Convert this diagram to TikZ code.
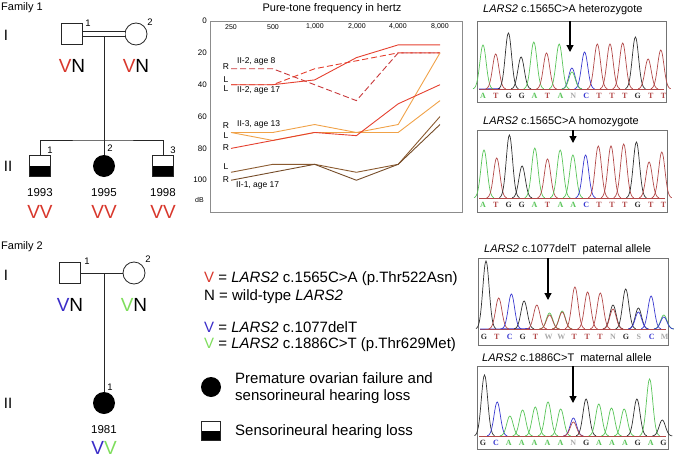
\documentclass[tikz,border=0pt]{standalone}
\usepackage{fontspec}
\setmainfont{Liberation Sans}
\newfontfamily\basefont{Liberation Serif}
\usetikzlibrary{arrows.meta}
\definecolor{vred}{HTML}{D8372C}
\definecolor{vblue}{HTML}{3A2CC8}
\definecolor{vgreen}{HTML}{7EDD5C}
\definecolor{ared}{HTML}{E5402F}
\definecolor{adred}{HTML}{C8383A}
\definecolor{aorange}{HTML}{F0A248}
\definecolor{abrown}{HTML}{8A5A30}
\definecolor{cA}{HTML}{58C458}
\definecolor{cT}{HTML}{B24848}
\definecolor{cG}{HTML}{303030}
\definecolor{cC}{HTML}{3838D0}
\definecolor{cN}{HTML}{A8A8A8}
\newcommand\fsz[1]{\fontsize{#1}{#1}\selectfont}
\newcommand\pk[4]{\draw[#4, line width=0.7pt] plot[domain=-10:10, samples=27, smooth] ({#1+\x},{#2-#3*exp(-(\x)^2/20)});}
\begin{document}
\begin{tikzpicture}[x=1pt,y=-1pt,
  male/.style={rectangle, draw=black!85, line width=0.8pt, minimum size=21pt, inner sep=0pt, fill=white},
  female/.style={circle, draw=black!85, line width=0.8pt, minimum size=22pt, inner sep=0pt, fill=white},
  afffemale/.style={circle, fill=black, minimum size=22pt, inner sep=0pt},
  halfmale/.style={male, path picture={\fill[black] (path picture bounding box.west) rectangle (path picture bounding box.south east);}},
  ped/.style={draw=black!85, line width=0.8pt},
  lbl/.style={font=\fsz{11}, inner sep=0pt},
  gen/.style={font=\fsz{15}, inner sep=0pt},
  num/.style={font=\fsz{9.5}, inner sep=0pt},
  geno/.style={font=\fsz{19}, inner sep=0pt},
  year/.style={font=\fsz{11.5}, inner sep=0pt},
  leg/.style={font=\fsz{15}, inner sep=0pt, anchor=west},
  aline/.style={line width=0.9pt},
  adash/.style={line width=0.9pt, dash pattern=on 6pt off 3pt},
  alab/.style={font=\fsz{8.5}, inner sep=0pt},
  atick/.style={font=\fsz{7}, inner sep=0pt},
  cbox/.style={draw=black!55, line width=0.8pt},
  ctitle/.style={font=\fsz{11}, inner sep=0pt, anchor=west},
  clet/.style={font=\basefont\bfseries\fsz{8}, inner sep=0pt},
  carr/.style={line width=1.2pt, -{Triangle[width=7pt,length=7pt]}}
]
\useasboundingbox (0,0) rectangle (675,458);

%% ---------- Family 1 pedigree ----------
\node[lbl, anchor=west] (fam1) at (1,8) {Family 1};
\node[gen] (g1i) at (6,35) {I};
\node[gen] (g1ii) at (8,166) {II};
\node[male] (f1a) at (72,34) {};
\node[female] (f1b) at (136,34) {};
\node[num] (n1a) at (88,23) {1};
\node[num] (n1b) at (150,22) {2};
\draw[ped, double, double distance=3.5pt] (f1a) -- (f1b);
\coordinate (m1) at (104,35.8);
\coordinate (s1) at (104,140);
\node[halfmale] (c1) at (40,166) {};
\node[afffemale] (c2) at (104,166) {};
\node[halfmale] (c3) at (163,166) {};
\draw[ped] (m1) -- (c2.north);
\draw[ped] (c1.north) |- (s1) -| (c3.north);
\node[num] (n1c) at (50,150) {1};
\node[num] (n1d) at (110,148) {2};
\node[num] (n1e) at (173,150) {3};
\node[geno] (gt1a) at (72,66) {\textcolor{vred}{V}N};
\node[geno] (gt1b) at (136,66) {\textcolor{vred}{V}N};
\node[year] (y1a) at (40,193) {1993};
\node[year] (y1b) at (104,193) {1995};
\node[year] (y1c) at (163,193) {1998};
\node[geno, text=vred] (gt1c) at (40,212) {VV};
\node[geno, text=vred] (gt1d) at (104,212) {VV};
\node[geno, text=vred] (gt1e) at (163,212) {VV};

%% ---------- Family 2 pedigree ----------
\node[lbl, anchor=west] (fam2) at (1,247) {Family 2};
\node[gen] (g2i) at (6,275) {I};
\node[gen] (g2ii) at (8,403) {II};
\node[male] (f2a) at (70,273) {};
\node[female] (f2b) at (134,273) {};
\node[num] (n2a) at (87,261) {1};
\node[num] (n2b) at (148,259) {2};
\draw[ped] (f2a) -- (f2b);
\coordinate (m2) at (104,273);
\node[afffemale] (d1) at (104,403) {};
\draw[ped] (m2) -- (d1.north);
\node[num] (n2c) at (110,387) {1};
\node[geno] (gt2a) at (70,305) {\textcolor{vblue}{V}N};
\node[geno] (gt2b) at (134,305) {\textcolor{vgreen}{V}N};
\node[year] (y2a) at (104,430) {1981};
\node[geno] (gt2c) at (104,448) {\textcolor{vblue}{V}\textcolor{vgreen}{V}};

%% ---------- Legend ----------
\node[leg] (l1) at (204,279) {\textcolor{vred}{V} = \textit{LARS2} c.1565C>A (p.Thr522Asn)};
\node[leg] (l2) at (204,297) {N = wild-type \textit{LARS2}};
\node[leg] (l3) at (204,327) {\textcolor{vblue}{V} = \textit{LARS2} c.1077delT};
\node[leg] (l4) at (204,345) {\textcolor{vgreen}{V} = \textit{LARS2} c.1886C>T (p.Thr629Met)};
\node[circle, fill=black, minimum size=20pt, inner sep=0pt] (lsym1) at (211,387) {};
\node[leg] (l5) at (235,378) {Premature ovarian failure and};
\node[leg] (l6) at (235,397) {sensorineural hearing loss};
\node[halfmale, minimum size=19pt] (lsym2) at (211,431) {};
\node[leg] (l7) at (235,432) {Sensorineural hearing loss};

%% ---------- Audiogram ----------
\node[lbl] (atitle) at (332,9) {Pure-tone frequency in hertz};
\draw[draw=black!45, line width=0.8pt] (210,21) rectangle (462,212);
\foreach \v/\yy [count=\k] in {0/21,20/52.5,40/84.5,60/116.5,80/148.5,100/180}
  \node[alab, anchor=east, font=\fsz{8}] (ay\k) at (207,\yy) {\v};
\node[atick, anchor=east] (adb) at (204,200) {dB};
\foreach \f/\xx [count=\k] in {250/231,500/273,{1,000}/315,{2,000}/357,{4,000}/398,{8,000}/440}
  \node[atick] (ax\k) at (\xx,27) {\f};
\begin{scope}[shift={(231pt,-21pt)}, x=41.8pt, y=-1.5925pt]
  \draw[adred, adash] (0,30)--(1,30)--(3,50)--(4,20)--(5,20);
  \draw[ared, adash] (0,40)--(1,40)--(2,30)--(3,25)--(4,20)--(5,20);
  \draw[ared, aline] (0,40)--(1,40)--(2,37)--(3,23)--(4,15)--(5,15);
  \draw[aorange, aline] (0,70)--(1,70)--(2,65)--(3,70)--(4,70)--(5,50);
  \draw[aorange, aline] (0,70)--(1,75)--(2,70)--(3,70)--(4,65)--(5,20);
  \draw[ared, aline] (0,80)--(1,75)--(2,70)--(3,72)--(4,52)--(5,40);
  \draw[abrown, aline] (0,95)--(1,90)--(2,90)--(3,95)--(4,90)--(5,60);
  \draw[abrown!85!black, aline] (0,100)--(1,95)--(2,90)--(3,100)--(4,90)--(5,65);
\end{scope}
\node[alab] (ar1) at (226,67) {R};
\node[alab] (ar2) at (226,80) {L};
\node[alab] (ar3) at (226,89) {L};
\node[alab] (ar4) at (226,126) {R};
\node[alab] (ar5) at (226,136) {L};
\node[alab] (ar6) at (226,148) {R};
\node[alab] (ar7) at (226,167) {L};
\node[alab] (ar8) at (226,180) {R};
\node[alab, anchor=west] (at1) at (237,61) {II-2, age 8};
\node[alab, anchor=west] (at2) at (237,90) {II-2, age 17};
\node[alab, anchor=west] (at3) at (237,124) {II-3, age 13};
\node[alab, anchor=west] (at4) at (236,185) {II-1, age 17};

%% ---------- Chromatogram 1 ----------
\node[ctitle] (t1) at (483,10) {\textit{LARS2} c.1565C>A heterozygote};
\draw[cbox] (477,21) rectangle (666,102);
\draw[cT, line width=0.6pt] (479,89.5) -- (664,89.5);
\draw[cC, line width=0.6pt] (479,89) -- (500,88.5);
\foreach \h/\c [count=\i from 0] in {44/cA,35/cT,56/cG,32/cG,47/cA,36/cT,45/cA,21/cC,37/cC,45/cT,45/cT,46/cT,52/cG,30/cT,39/cT}
  {\pk{483+12.7*\i}{89}{\h}{\c}}
\pk{572}{89}{17}{cA}
\foreach \l/\c [count=\i from 0] in {A/cA,T/cT,G/cG,G/cG,A/cA,T/cT,A/cA,N/cN,C/cC,T/cT,T/cT,T/cT,G/cG,T/cT,T/cT}
  \node[clet, text=\c] (la\i) at (483+12.9*\i,95.5) {\l};
\coordinate (a1s) at (570,21);
\coordinate (a1e) at (570,52);
\draw[carr] (a1s) -- (a1e);

%% ---------- Chromatogram 2 ----------
\node[ctitle] (t2) at (483,122) {\textit{LARS2} c.1565C>A homozygote};
\draw[cbox] (477,130) rectangle (667,212);
\draw[cT, line width=0.6pt] (479,198.5) -- (665,198.5);
\foreach \h/\c [count=\i from 0] in {48/cA,40/cT,63/cG,32/cG,50/cA,39/cT,48/cA,43/cA,43/cC,52/cT,52/cT,54/cT,56/cG,36/cT,46/cT}
  {\pk{484+12.7*\i}{198}{\h}{\c}}
\foreach \l/\c [count=\i from 0] in {A/cA,T/cT,G/cG,G/cG,A/cA,T/cT,A/cA,A/cA,C/cC,T/cT,T/cT,T/cT,G/cG,T/cT,T/cT}
  \node[clet, text=\c] (lb\i) at (483+12.9*\i,205) {\l};
\coordinate (a2s) at (573,130);
\coordinate (a2e) at (573,143);
\draw[carr] (a2s) -- (a2e);

%% ---------- Chromatogram 3 ----------
\node[ctitle] (t3) at (484,250) {\textit{LARS2} c.1077delT~~paternal allele};
\draw[cbox] (478,258) rectangle (668,345);
\draw[cT, line width=0.6pt] (480,329.5) -- (666,329.5);
\draw[cC, line width=0.6pt] (480,329) -- (530,328.5);
\foreach \h/\c [count=\i from 0] in {68/cG,31/cT,35/cC,28/cG,24/cT,16/cA,18/cA,42/cT,37/cT,36/cT,24/cG,40/cG,21/cG,33/cC,14/cA}
  {\pk{486+12.7*\i}{329}{\h}{\c}}
\pk{486+12.7*5}{329}{14}{cT}
\pk{486+12.7*6}{329}{17}{cT}
\pk{486+12.7*10}{329}{20}{cT}
\pk{486+12.7*12}{329}{17}{cC}
\pk{486+12.7*14}{329}{12}{cC}
\foreach \l/\c [count=\i from 0] in {G/cG,T/cT,C/cC,G/cG,T/cT,W/cN,W/cN,T/cT,T/cT,T/cT,N/cN,G/cG,S/cN,C/cC,M/cN}
  \node[clet, text=\c] (lc\i) at (484+12.9*\i,337) {\l};
\coordinate (a3s) at (548,258);
\coordinate (a3e) at (548,300);
\draw[carr] (a3s) -- (a3e);

%% ---------- Chromatogram 4 ----------
\node[ctitle] (t4) at (482,358) {\textit{LARS2} c.1886C>T~~maternal allele};
\draw[cbox] (477,366) rectangle (668,449);
\draw[cT, line width=0.6pt] (479,436.5) -- (666,436.5);
\foreach \h/\c [count=\i from 0] in {61/cG,34/cC,20/cA,26/cA,29/cA,34/cA,27/cA,18/cC,37/cG,32/cA,28/cA,27/cA,37/cG,57/cA,16/cG}
  {\pk{484.5+12.7*\i}{436}{\h}{\c}}
\pk{484.5+12.7*7}{436}{14}{cT}
\foreach \l/\c [count=\i from 0] in {G/cG,C/cC,A/cA,A/cA,A/cA,A/cA,A/cA,N/cN,G/cG,A/cA,A/cA,A/cA,G/cG,A/cA,G/cG}
  \node[clet, text=\c] (ld\i) at (483+12.9*\i,443) {\l};
\coordinate (a4s) at (573,366);
\coordinate (a4e) at (573,403);
\draw[carr] (a4s) -- (a4e);
\end{tikzpicture}
\end{document}
